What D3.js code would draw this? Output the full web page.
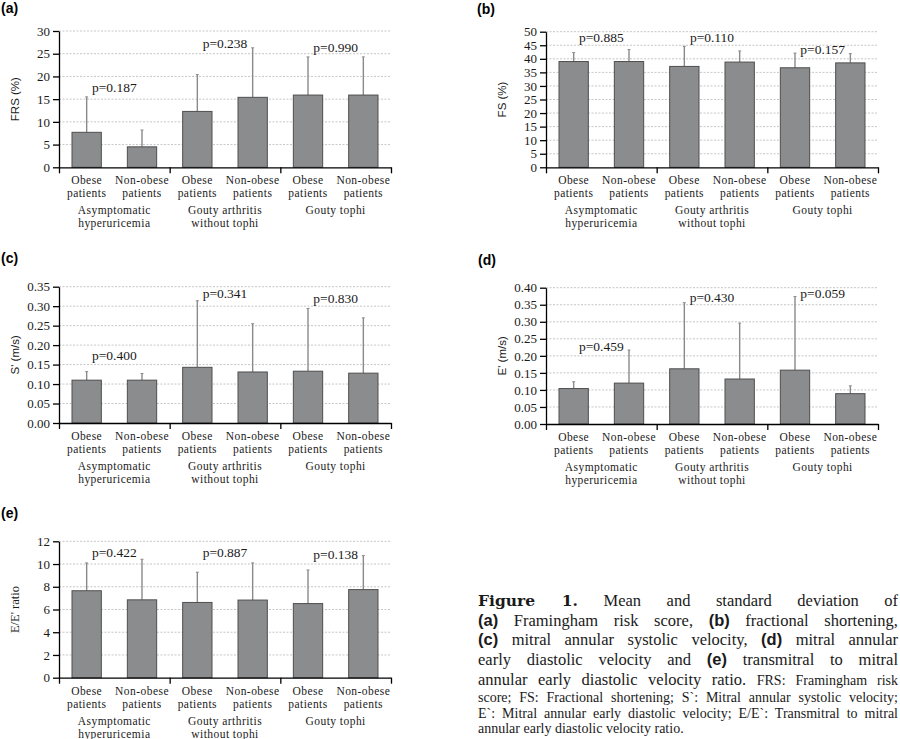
<!DOCTYPE html>
<html>
<head>
<meta charset="utf-8">
<script src="https://cdn.jsdelivr.net/npm/d3@7"></script>
<style>
  body { margin: 0; background: #fff; }
  #wrap { position: relative; width: 900px; height: 739px; }
  svg { position: absolute; left: 0; top: 0; }
  #caption { position: absolute; left: 478px; top: 591px; width: 420px;
             font-family: "Liberation Serif", serif; color: #1a1a1a; }
  .big { font-size: 16.5px; line-height: 19.7px; height: 19.7px; }
  .sm { font-size: 14px; line-height: 15.3px; height: 15.3px; }
  .first { margin-top: 1px; }
  .j { text-align: justify; text-align-last: justify; }
  .fig { font-family: "DejaVu Serif", serif; font-weight: bold; font-size: 15.5px; }
  .lt { font-family: "Liberation Sans", sans-serif; font-weight: bold; }
</style>
</head>
<body>
<div id="wrap"><div id="caption"></div></div>
<script>
// categories
const barKeys = ["AH-O", "AH-N", "GA-O", "GA-N", "GT-O", "GT-N"];
const barLabels = [["Obese", "patients"], ["Non-obese", "patients"],
                   ["Obese", "patients"], ["Non-obese", "patients"],
                   ["Obese", "patients"], ["Non-obese", "patients"]];
const groupKeys = ["AH", "GA", "GT"];
const groupLabels = [["Asymptomatic", "hyperuricemia"], ["Gouty arthritis", "without tophi"], ["Gouty tophi"]];

// (a) Framingham risk score
const frsMean = [7.7, 4.5, 12.3, 15.4, 15.9, 15.9];
const frsSD   = [7.8, 3.7, 8.1, 10.9, 8.4, 8.4];
const frsP    = ["p=0.187", "p=0.238", "p=0.990"];
const frsPAt  = [16.5, 26.2, 25.4];

// (b) fractional shortening
const fsMean = [39.0, 39.0, 37.2, 38.8, 36.7, 38.5];
const fsSD   = [3.3, 4.4, 7.4, 4.1, 5.4, 3.4];
const fsP    = ["p=0.885", "p=0.110", "p=0.157"];
const fsPAt  = [46.1, 46.1, 41.8];

// (c) S'
const sMean = [0.110, 0.110, 0.143, 0.131, 0.133, 0.128];
const sSD   = [0.022, 0.017, 0.171, 0.124, 0.161, 0.142];
const sP    = ["p=0.400", "p=0.341", "p=0.830"];
const sPAt  = [0.162, 0.322, 0.307];

// (d) E'
const eMean = [0.104, 0.120, 0.162, 0.132, 0.158, 0.089];
const eSD   = [0.020, 0.097, 0.194, 0.164, 0.216, 0.023];
const eP    = ["p=0.459", "p=0.430", "p=0.059"];
const ePAt  = [0.214, 0.357, 0.369];

// (e) E/E'
const eeMean = [7.65, 6.85, 6.62, 6.83, 6.52, 7.75];
const eeSD   = [2.45, 3.57, 2.66, 3.27, 2.96, 2.99];
const eeP    = ["p=0.422", "p=0.887", "p=0.138"];
const eePAt  = [10.6, 10.6, 10.42];

const panels = [
  { tag: "(a)", title: "FRS (%)", sans: true, mean: frsMean, sd: frsSD, p: frsP, pAt: frsPAt,
    max: 30, step: 5, fmt: "d", x0: 59, x1: 391, yTop: 31, yBot: 167.3, tagX: 1, tagY: 13 },
  { tag: "(b)", title: "FS (%)", sans: true, mean: fsMean, sd: fsSD, p: fsP, pAt: fsPAt,
    max: 50, step: 5, fmt: "d", x0: 546, x1: 878, yTop: 31.7, yBot: 167.3, tagX: 477, tagY: 14 },
  { tag: "(c)", title: "S' (m/s)", sans: true, mean: sMean, sd: sSD, p: sP, pAt: sPAt,
    max: 0.35, step: 0.05, fmt: ".2f", x0: 59, x1: 391, yTop: 286.7, yBot: 423, tagX: 1, tagY: 263 },
  { tag: "(d)", title: "E' (m/s)", sans: true, mean: eMean, sd: eSD, p: eP, pAt: ePAt,
    max: 0.40, step: 0.05, fmt: ".2f", x0: 546, x1: 878, yTop: 287.7, yBot: 424, tagX: 478, tagY: 265 },
  { tag: "(e)", title: "E/E' ratio", sans: false, mean: eeMean, sd: eeSD, p: eeP, pAt: eePAt,
    max: 12, step: 2, fmt: "d", x0: 59, x1: 391, yTop: 541.3, yBot: 677.7, tagX: 1, tagY: 518 }
];

const serif = "'Liberation Serif', serif";
const sans = "'Liberation Sans', sans-serif";

const svg = d3.select("#wrap").append("svg")
  .attr("width", 900).attr("height", 739);

panels.forEach(p => {
  const g = svg.append("g");
  const x = d3.scaleBand().domain(barKeys).range([p.x0, p.x1]).paddingInner(0.47).paddingOuter(0.235);
  const xg = d3.scaleBand().domain(groupKeys).range([p.x0, p.x1]);
  const xb = d3.scaleLinear().domain([0, 3]).range([p.x0, p.x1]);
  const y = d3.scaleLinear().domain([0, p.max]).range([p.yBot, p.yTop]);
  const ticks = d3.range(0, Math.round(p.max / p.step) + 1).map(i => i * p.step);
  const rows = barKeys.map((k, i) => ({ key: k, mean: p.mean[i], sd: p.sd[i] }));

  // panel tag
  g.append("text").attr("x", p.tagX).attr("y", p.tagY)
    .attr("font-family", sans).attr("font-weight", "bold").attr("font-size", 14)
    .text(p.tag);

  // dashed gridlines
  g.append("g").selectAll("line").data(ticks.slice(1)).join("line")
    .attr("x1", p.x0).attr("x2", p.x1)
    .attr("y1", d => y(d)).attr("y2", d => y(d))
    .attr("stroke", "#c6c6c6").attr("stroke-dasharray", "2,1.5");

  // error bars (upper SD only)
  const eb = g.append("g").selectAll("g").data(rows).join("g");
  eb.append("line")
    .attr("x1", d => x(d.key) + x.bandwidth() / 2).attr("x2", d => x(d.key) + x.bandwidth() / 2)
    .attr("y1", d => y(d.mean)).attr("y2", d => y(d.mean + d.sd))
    .attr("stroke", "#8a8a8a").attr("stroke-width", 1.4);
  eb.append("line")
    .attr("x1", d => x(d.key) + x.bandwidth() / 2 - 1.5).attr("x2", d => x(d.key) + x.bandwidth() / 2 + 1.5)
    .attr("y1", d => y(d.mean + d.sd)).attr("y2", d => y(d.mean + d.sd))
    .attr("stroke", "#8a8a8a").attr("stroke-width", 1);

  // bars
  g.append("g").selectAll("rect").data(rows).join("rect")
    .attr("x", d => x(d.key)).attr("width", x.bandwidth())
    .attr("y", d => y(d.mean)).attr("height", d => y(0) - y(d.mean))
    .attr("fill", "#8b8c8e").attr("stroke", "#4e4e4e").attr("stroke-width", 1);

  // p-values
  g.append("g").selectAll("text").data(groupKeys).join("text")
    .attr("x", d => xg(d) + xg.bandwidth() / 2)
    .attr("y", (d, i) => y(p.pAt[i]))
    .attr("text-anchor", "middle")
    .attr("font-family", serif).attr("font-size", 13.5).attr("fill", "#1a1a1a")
    .text((d, i) => p.p[i]);

  // y axis
  const ya = g.append("g").attr("transform", `translate(${p.x0},0)`)
    .call(d3.axisLeft(y).tickValues(ticks).tickFormat(d3.format(p.fmt))
      .tickSize(6).tickPadding(3).tickSizeOuter(0));
  ya.attr("font-family", serif).attr("font-size", 13);
  ya.selectAll("line, path").attr("stroke", "#000").attr("stroke-width", 1.3);
  ya.selectAll("text").attr("fill", "#1a1a1a");

  // x axis with ticks at group boundaries
  const xa = g.append("g").attr("transform", `translate(0,${p.yBot})`)
    .call(d3.axisBottom(xb).tickValues([0, 1, 2, 3]).tickFormat("").tickSize(6).tickSizeOuter(0));
  xa.selectAll("line, path").attr("stroke", "#000").attr("stroke-width", 1.3);

  // bar labels, one text per line
  barKeys.forEach((k, i) => {
    barLabels[i].forEach((s, j) => {
      g.append("text")
        .attr("x", x(k) + x.bandwidth() / 2).attr("y", p.yBot + 16.8 + j * 13)
        .attr("text-anchor", "middle")
        .attr("font-family", serif).attr("font-size", 11.5)
        .attr("letter-spacing", 0.45).attr("fill", "#1a1a1a")
        .text(s);
    });
  });

  // group labels
  groupKeys.forEach((k, i) => {
    groupLabels[i].forEach((s, j) => {
      g.append("text")
        .attr("x", xg(k) + xg.bandwidth() / 2).attr("y", p.yBot + 47 + j * 13)
        .attr("text-anchor", "middle")
        .attr("font-family", serif).attr("font-size", 11.5)
        .attr("letter-spacing", 0.45).attr("fill", "#1a1a1a")
        .text(s);
    });
  });

  // y title
  g.append("text")
    .attr("transform", `translate(${p.x0 - 40},${(p.yTop + p.yBot) / 2}) rotate(-90)`)
    .attr("text-anchor", "middle")
    .attr("font-family", p.sans ? sans : serif)
    .attr("font-size", p.sans ? 11.5 : 12.5).attr("fill", "#1a1a1a")
    .text(p.title);
});

// caption
const capLines = [
  { cls: "big j", html: '<span class="fig">Figure 1.</span> Mean and standard deviation of' },
  { cls: "big j", html: '<span class="lt">(a)</span> Framingham risk score, <span class="lt">(b)</span> fractional shortening,' },
  { cls: "big j", html: '<span class="lt">(c)</span> mitral annular systolic velocity, <span class="lt">(d)</span> mitral annular' },
  { cls: "big j", html: 'early diastolic velocity and <span class="lt">(e)</span> transmitral to mitral' },
  { cls: "big j", html: 'annular early diastolic velocity ratio. <span style="font-size:14px">FRS: Framingham risk</span>' },
  { cls: "sm j first", html: 'score; FS: Fractional shortening; S`: Mitral annular systolic velocity;' },
  { cls: "sm j", html: 'E`: Mitral annular early diastolic velocity; E/E`: Transmitral to mitral' },
  { cls: "sm", html: 'annular early diastolic velocity ratio.' }
];
d3.select("#caption").selectAll("div").data(capLines).join("div")
  .attr("class", d => d.cls)
  .html(d => d.html);
</script>
</body>
</html>
